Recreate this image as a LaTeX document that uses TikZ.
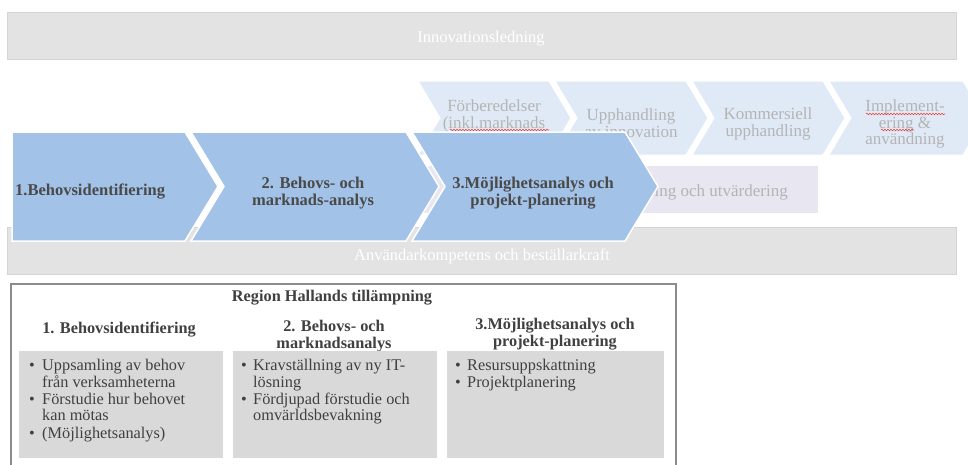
\documentclass[tikz,border=0pt]{standalone}
\usepackage{fontspec}
\setmainfont{Liberation Serif}
\usetikzlibrary{decorations.pathmorphing}

\definecolor{barfill}{HTML}{E3E3E3}
\definecolor{barline}{HTML}{D4D4D4}
\definecolor{lchev}{HTML}{E0EAF6}
\definecolor{bchev}{HTML}{A2C2E7}
\definecolor{lavfill}{HTML}{E8E6F0}
\definecolor{fainttext}{HTML}{B4B4B4}
\definecolor{darktext}{HTML}{4A4A4A}
\definecolor{bodytext}{HTML}{404040}
\definecolor{framecol}{HTML}{8C8C8C}
\definecolor{subfill}{HTML}{D9D9D9}
\definecolor{squiggle}{HTML}{E8453C}

% chevron: style, left, right, top, bottom, depth
\newcommand\chevron[6]{%
  \path[#1] (#2,#4) -- (#3,#4) -- ({#3+#6},{(#4+#5)/2}) -- (#3,#5) -- (#2,#5)
    -- ({#2+#6},{(#4+#5)/2}) -- cycle;}
% first chevron of a row has a flat left side
\newcommand\flatchevron[6]{%
  \path[#1] (#2,#4) -- (#3,#4) -- ({#3+#6},{(#4+#5)/2}) -- (#3,#5) -- (#2,#5) -- cycle;}

\begin{document}
\begin{tikzpicture}[x=1pt,y=-1pt,
  greybar/.style={fill=barfill, draw=barline, line width=0.8pt},
  lightchev/.style={fill=lchev, draw=white, line width=1pt},
  bluechev/.style={fill=bchev, draw=white, line width=1.5pt},
  whitelabel/.style={text=white, font=\fontsize{16.5}{18}\selectfont, inner sep=0},
  faintlabel/.style={text=fainttext, font=\fontsize{17}{16.5}\selectfont, align=center, inner sep=0},
  steplabel/.style={text=darktext, font=\bfseries\fontsize{16.5}{17}\selectfont, align=center, inner sep=0},
  headlabel/.style={text=bodytext, font=\bfseries\fontsize{16.3}{17.5}\selectfont, align=center, inner sep=0},
  itemtext/.style={text=bodytext, font=\fontsize{16.3}{16.5}\selectfont, align=left, inner sep=0, anchor=north west},
  subbox/.style={fill=subfill, draw=none},
  spell/.style={draw=squiggle, line width=0.6pt, decorate,
    decoration={snake, amplitude=0.8pt, segment length=3pt}}
]
\useasboundingbox (0,0) rectangle (968,464);
\clip (0,0) rectangle (968,464);

% top bar
\draw[greybar] (7,12) rectangle (956,59);
\node[whitelabel] (innov) at (481,39) {Innovationsledning};

% phases of the procurement process (background row)
\chevron{lightchev}{418}{549}{81}{155}{22}
\chevron{lightchev}{555}{686}{81}{155}{22}
\chevron{lightchev}{692}{823}{81}{155}{22}
\chevron{lightchev}{829}{963}{81}{155}{22}
\node[faintlabel] (f1) at (494,116) {Förberedelser\\(inkl.marknads};
\node[faintlabel] (f2) at (631,123) {Upphandling\\av innovation};
\node[faintlabel] (f3) at (768,124) {Kommersiell\\upphandling};
\node[faintlabel] (f4) at (905,124) {Implement-\\ering \&\\användning};
\draw[spell] (450,130) -- (549,130);
\draw[spell] (866,114) -- (945,114);
\draw[spell] (881,130) -- (914,130);

% follow-up band
\fill[lavfill] (418,166) rectangle (818,213);
\node[faintlabel, anchor=east] (follow) at (788,192) {Uppföljning och utvärdering};

% bottom bar
\draw[greybar] (7,227) rectangle (956,274);
\node[whitelabel] (user) at (482,256) {Användarkompetens och beställarkraft};

% highlighted steps
\flatchevron{bluechev}{12}{185}{132}{241}{33}
\chevron{bluechev}{191}{406}{132}{241}{33}
\chevron{bluechev}{412}{625}{132}{241}{33}
\node[steplabel, anchor=west] (s1) at (15,192) {1.Behovsidentifiering};
\node[steplabel] (s2) at (313,193) {2. Behovs- och\\marknads-analys};
\node[steplabel] (s3) at (533,193) {3.Möjlighetsanalys och\\projekt-planering};

% application panel
\draw[framecol, line width=2pt] (11,284) rectangle (676,470);
\node[headlabel] (title) at (332,298) {Region Hallands tillämpning};
\node[headlabel] (h1) at (119,330) {1. Behovsidentifiering};
\node[headlabel] (h2) at (334,336) {2. Behovs- och\\marknadsanalys};
\node[headlabel] (h3) at (555,334) {3.Möjlighetsanalys och\\projekt-planering};

\fill[subbox] (19,351) rectangle (223,458);
\fill[subbox] (233,351) rectangle (437,458);
\fill[subbox] (447,351) rectangle (664,458);

\node[itemtext] (b1) at (29,359) {%
  \makebox[13pt][l]{\textbullet}Uppsamling av behov\\
  \makebox[13pt][l]{}från verksamheterna\\[0.5pt]
  \makebox[13pt][l]{\textbullet}Förstudie hur behovet\\
  \makebox[13pt][l]{}kan mötas\\[1pt]
  \makebox[13pt][l]{\textbullet}(Möjlighetsanalys)};
\node[itemtext] (b2) at (241,359) {%
  \makebox[12pt][l]{\textbullet}Kravställning av ny IT-\\
  \makebox[12pt][l]{}lösning\\[0.5pt]
  \makebox[12pt][l]{\textbullet}Fördjupad förstudie och\\
  \makebox[12pt][l]{}omvärldsbevakning};
\node[itemtext] (b3) at (455,359) {%
  \makebox[12pt][l]{\textbullet}Resursuppskattning\\
  \makebox[12pt][l]{\textbullet}Projektplanering};
\end{tikzpicture}
\end{document}
